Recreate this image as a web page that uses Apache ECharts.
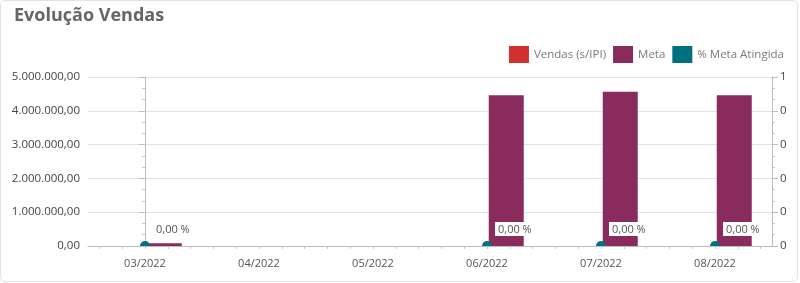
<!DOCTYPE html>
<html>
<head>
<meta charset="utf-8">
<script src="https://cdn.jsdelivr.net/npm/echarts@6/dist/echarts.min.js"></script>
<style>
  html, body { margin: 0; padding: 0; background: #fff; }
  .card {
    position: absolute; left: 0; top: 0;
    width: 796px; height: 280px;
    border: 1px solid #e3e3e3; border-radius: 5px;
  }
  .com-echarts { position: absolute; left: 0; top: 0; width: 800px; height: 283px; }
</style>
</head>
<body>
<div class="card"></div>
<div class="com-echarts" id="chart"></div>
<script>
const categories = ["03/2022", "04/2022", "05/2022", "06/2022", "07/2022", "08/2022"];
const vendas = [0, 0, 0, 0, 0, 0];
const meta = [80000, 0, 0, 4460000, 4560000, 4460000];
const metaAtingida = [0, null, null, 0, 0, 0];

const fmtMoney = (v) =>
  v.toLocaleString("pt-BR", { minimumFractionDigits: 2, maximumFractionDigits: 2 });

// small ticks between the category ticks (5 per category)
const minorX = [];
for (let i = -2; i <= 27; i++) minorX.push(i / 5);

const chartInstance = echarts.init(document.getElementById("chart"));
const option = {
  animation: false,
  textStyle: { fontFamily: "Open Sans" },
  title: {
    text: "Evolução Vendas",
    left: 9,
    top: 2,
    textStyle: { fontSize: 18, fontWeight: "bold", color: "#666", fontFamily: "Open Sans" },
  },
  legend: {
    right: 11,
    top: 41,
    itemWidth: 20,
    itemHeight: 17,
    itemGap: 7,
    icon: "rect",
    textStyle: { color: "#7a7a7a", fontSize: 11.5 },
    data: ["Vendas (s/IPI)", "Meta", { name: "% Meta Atingida", icon: "rect" }],
  },
  grid: { left: 88, right: 28, top: 77, bottom: 37 },
  xAxis: [
    {
      type: "category",
      data: categories,
      axisLine: { lineStyle: { color: "#bdbdbd" } },
      axisTick: { alignWithLabel: true, length: 5, lineStyle: { color: "#bdbdbd" } },
      axisLabel: { color: "#555", fontSize: 11, margin: 12 },
    },
    {
      type: "value",
      position: "bottom",
      min: -0.5,
      max: 5.5,
      axisLine: { show: false },
      axisLabel: { show: false },
      splitLine: { show: false },
      axisTick: { show: true, customValues: minorX, length: 3, lineStyle: { color: "#c8c8c8" } },
    },
  ],
  yAxis: [
    {
      type: "value",
      min: 0,
      max: 5000000,
      interval: 1000000,
      axisLine: { show: true, lineStyle: { color: "#bdbdbd" } },
      axisTick: { show: true, length: 6, lineStyle: { color: "#bdbdbd" } },
      minorTick: { show: true, splitNumber: 3, length: 3, lineStyle: { color: "#c8c8c8" } },
      splitLine: { lineStyle: { color: "#e4e4e4" } },
      axisLabel: { color: "#444", fontSize: 11.5, margin: 8, formatter: fmtMoney },
    },
    {
      type: "value",
      min: 0,
      max: 1,
      interval: 0.2,
      axisLine: { show: true, lineStyle: { color: "#bdbdbd" } },
      axisTick: { show: true, length: 6, lineStyle: { color: "#bdbdbd" } },
      minorTick: { show: true, splitNumber: 3, length: 3, lineStyle: { color: "#c8c8c8" } },
      splitLine: { show: false },
      axisLabel: { color: "#444", fontSize: 11.5, margin: 8, formatter: (v) => String(Math.floor(v)) },
    },
  ],
  series: [
    {
      name: "Vendas (s/IPI)",
      type: "bar",
      data: vendas,
      barWidth: 35,
      barGap: "10%",
      itemStyle: { color: "#d1302f" },
    },
    {
      name: "Meta",
      type: "bar",
      data: meta,
      barWidth: 35,
      barGap: "10%",
      itemStyle: { color: "#8a2b5e" },
    },
    {
      name: "% Meta Atingida",
      type: "scatter",
      yAxisIndex: 1,
      data: metaAtingida,
      // half dome: the lower half of the marker sits below the axis in the original
      symbol: "path://M0,10 A10,10 0 0 1 20,10 Z",
      symbolSize: [10, 5],
      symbolOffset: [0, -2.5],
      z: 5,
      itemStyle: { color: "#00717e", opacity: 1 },
      label: {
        show: true,
        position: [13, -19],
        formatter: (p) => p.value.toFixed(2).replace(".", ",") + " %",
        color: "#555",
        fontSize: 11,
        backgroundColor: "#fff",
        padding: [2, 3, 1, 3],
      },
    },
  ],
};
chartInstance.setOption(option);
</script>
</body>
</html>
